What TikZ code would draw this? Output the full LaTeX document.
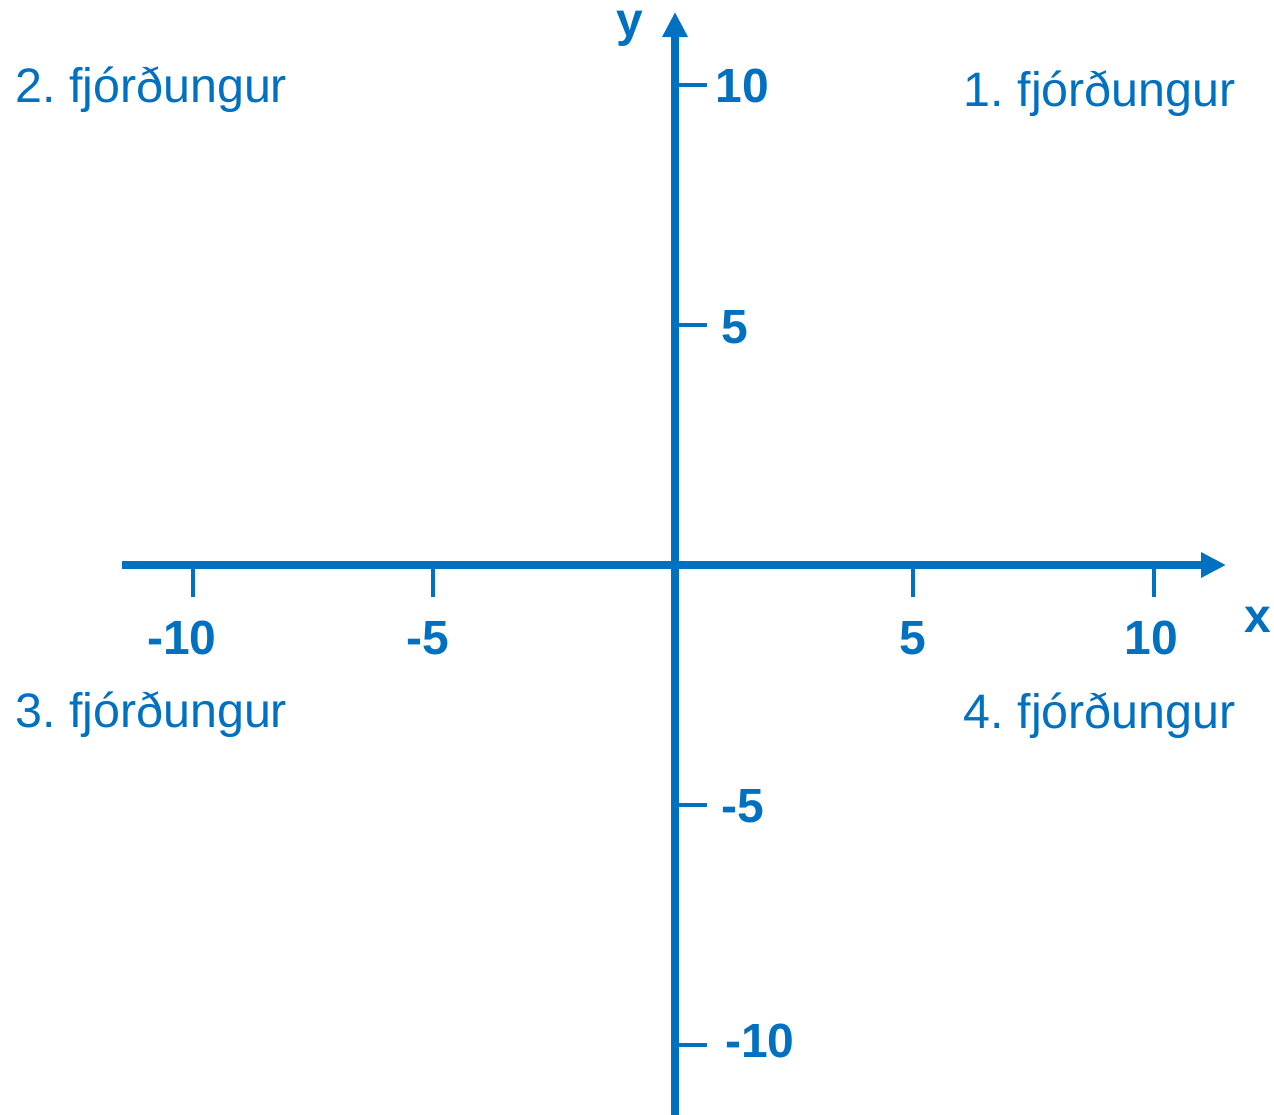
\documentclass[tikz,border=0pt]{standalone}
\usepackage{fontspec}
\setmainfont{Liberation Sans}
\usetikzlibrary{arrows.meta}
\definecolor{axblue}{RGB}{0,112,192}
\frenchspacing
\begin{document}
\begin{tikzpicture}[x=0.5pt,y=-0.5pt,
  axis/.style={draw=axblue,line width=3.6pt,-{Triangle[length=12.5pt,width=12pt]}},
  tick/.style={draw=axblue,line width=2pt},
  num/.style={text=axblue,font=\fontsize{24}{28}\selectfont\bfseries,inner sep=0pt},
  quad/.style={text=axblue,font=\fontsize{24.2}{28}\selectfont,inner sep=0pt}]
\useasboundingbox (0,0) rectangle (1274,1114);
% axis ends
\coordinate (xs) at (122,565);
\coordinate (xe) at (1226,565);
\coordinate (ys) at (675,1118);
\coordinate (ye) at (675,12);
\draw[axis] (xs) -- (xe);
\draw[axis] (ys) -- (ye);
% x ticks
\coordinate (xt1a) at (193,567); \coordinate (xt1b) at (193,597);
\coordinate (xt2a) at (433,567); \coordinate (xt2b) at (433,597);
\coordinate (xt3a) at (913,567); \coordinate (xt3b) at (913,597);
\coordinate (xt4a) at (1154,567); \coordinate (xt4b) at (1154,597);
\draw[tick] (xt1a) -- (xt1b);
\draw[tick] (xt2a) -- (xt2b);
\draw[tick] (xt3a) -- (xt3b);
\draw[tick] (xt4a) -- (xt4b);
% y ticks
\coordinate (yt1a) at (677,85); \coordinate (yt1b) at (707,85);
\coordinate (yt2a) at (677,325); \coordinate (yt2b) at (707,325);
\coordinate (yt3a) at (677,805); \coordinate (yt3b) at (707,805);
\coordinate (yt4a) at (677,1045); \coordinate (yt4b) at (707,1045);
\draw[tick] (yt1a) -- (yt1b);
\draw[tick] (yt2a) -- (yt2b);
\draw[tick] (yt3a) -- (yt3b);
\draw[tick] (yt4a) -- (yt4b);
% axis labels
\node[num] (ylab) at (630,29) {y};
\node[num] (xlab) at (1258,620) {x};
\node[num] (xm10) at (182,638) {-10};
\node[num] (xm5) at (428,638) {-5};
\node[num] (xp5) at (913,638) {5};
\node[num] (xp10) at (1151,638) {10};
\node[num] (yp10) at (742,86) {10};
\node[num] (yp5) at (735,327) {5};
\node[num] (ym5) at (743,806) {-5};
\node[num] (ym10) at (760,1041) {-10};
% quadrant labels
\node[quad,anchor=base west] (q2) at (15,102) {2. fjórðungur};
\node[quad,anchor=base east] (q1) at (1236,106) {1. fjórðungur};
\node[quad,anchor=base west] (q3) at (15,727) {3. fjórðungur};
\node[quad,anchor=base east] (q4) at (1236,728) {4. fjórðungur};
\end{tikzpicture}
\end{document}
